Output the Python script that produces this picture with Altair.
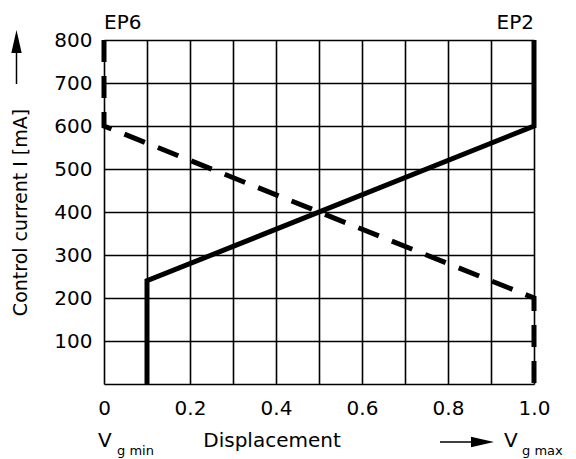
import altair as alt
import pandas as pd

# ---- data ----
ep2_x = [0.1, 0.1, 1.0, 1.0]
ep2_y = [0, 240, 600, 800]
ep6_x = [0.0, 0.0, 1.0, 1.0]
ep6_y = [800, 600, 200, 0]
curve_names = ["EP6", "EP2"]
curve_label_x = [0.0, 1.0]
curve_label_y = [800, 800]
x_ticks = [0.0, 0.1, 0.2, 0.3, 0.4, 0.5, 0.6, 0.7, 0.8, 0.9, 1.0]
y_ticks = [0, 100, 200, 300, 400, 500, 600, 700, 800]

FONT = "DejaVu Sans"
FS = 20

df2 = pd.DataFrame({"x": ep2_x, "y": ep2_y, "order": list(range(len(ep2_x)))})
df6 = pd.DataFrame({"x": ep6_x, "y": ep6_y, "order": list(range(len(ep6_x)))})
lab_left = pd.DataFrame({"x": curve_label_x[:1], "y": curve_label_y[:1], "t": curve_names[:1]})
lab_right = pd.DataFrame({"x": curve_label_x[1:], "y": curve_label_y[1:], "t": curve_names[1:]})
one = pd.DataFrame({"a": [0]})

x_scale = alt.Scale(domain=[0, 1], nice=False, zero=False)
y_scale = alt.Scale(domain=[0, 800], nice=False)

x_axis = alt.Axis(
    values=x_ticks, grid=True, gridColor="black", gridWidth=1.6, gridOpacity=1,
    ticks=False, domain=False, labelFlush=False, labelOverlap=False, labelBound=False,
    labelExpr="round(datum.value*10) % 2 == 1 ? '' : (datum.value == 0 ? '0' : format(datum.value, '.1f'))",
    labelFont=FONT, labelFontSize=FS, labelColor="black", labelPadding=14, title=None,
)
y_axis = alt.Axis(
    values=y_ticks, grid=True, gridColor="black", gridWidth=1.6, gridOpacity=1,
    ticks=False, domain=False, labelOverlap=False, labelBound=False,
    labelExpr="datum.value == 0 ? '' : datum.label",
    labelFont=FONT, labelFontSize=FS, labelColor="black", labelPadding=12,
    title="Control current I [mA]", titleFont=FONT, titleFontSize=19,
    titleFontWeight="normal", titleColor="black", titleX=-84, titleY=172,
    titleAngle=270, titleAlign="center", titleBaseline="middle",
)

X = alt.X("x:Q", scale=x_scale, axis=x_axis)
Y = alt.Y("y:Q", scale=y_scale, axis=y_axis)

line2 = alt.Chart(df2).mark_line(color="black", strokeWidth=5, strokeCap="butt").encode(
    x=X, y=Y, order="order:O")
line6 = alt.Chart(df6).mark_line(color="black", strokeWidth=5, strokeCap="butt",
                                 strokeDash=[22, 14]).encode(x=X, y=Y, order="order:O")

txt_l = alt.Chart(lab_left).mark_text(align="left", baseline="alphabetic", dy=-11,
                                      font=FONT, fontSize=FS, color="black").encode(
    x=X, y=Y, text="t:N")
txt_r = alt.Chart(lab_right).mark_text(align="right", baseline="alphabetic", dy=-11,
                                       font=FONT, fontSize=FS, color="black").encode(
    x=X, y=Y, text="t:N")


def label(text, xpx, ypx, size=FS, align="left"):
    return alt.Chart(one).mark_text(text=text, align=align, baseline="alphabetic",
                                    font=FONT, fontSize=size, color="black").encode(
        x=alt.value(xpx), y=alt.value(ypx))


disp = label("Displacement", 168, 407, align="center")
v_min = label("V", -6, 407)
v_min_sub = label("g min", 13, 415, size=13)
v_max = label("V", 400, 407)
v_max_sub = label("g max", 418, 415, size=13)

h_line = alt.Chart(one).mark_rule(color="black", strokeWidth=1.5).encode(
    x=alt.value(336), x2=alt.value(370), y=alt.value(402))
h_head = alt.Chart(one).mark_point(shape="M1,0L-1,-0.45L-1,0.45Z", filled=True, opacity=1,
                                   color="black", size=529, strokeWidth=0).encode(
    x=alt.value(378.5), y=alt.value(402))
v_line = alt.Chart(one).mark_rule(color="black", strokeWidth=1.5).encode(
    x=alt.value(-87.5), y=alt.value(12), y2=alt.value(44))
v_head = alt.Chart(one).mark_point(shape="M0,-1L0.45,1L-0.45,1Z", filled=True, opacity=1,
                                   color="black", size=529, strokeWidth=0).encode(
    x=alt.value(-87.5), y=alt.value(1.5))

chart = alt.layer(
    line2, line6, txt_l, txt_r, disp, v_min, v_min_sub, v_max, v_max_sub,
    h_line, h_head, v_line, v_head,
).properties(
    width=430, height=344,
    autosize=alt.AutoSizeParams(type="none"),
    padding={"left": 96, "top": 32, "right": 34, "bottom": 75},
    background="white",
).configure_view(stroke=None)

chart.save("out.html", embed_options={"renderer": "svg", "actions": False})
